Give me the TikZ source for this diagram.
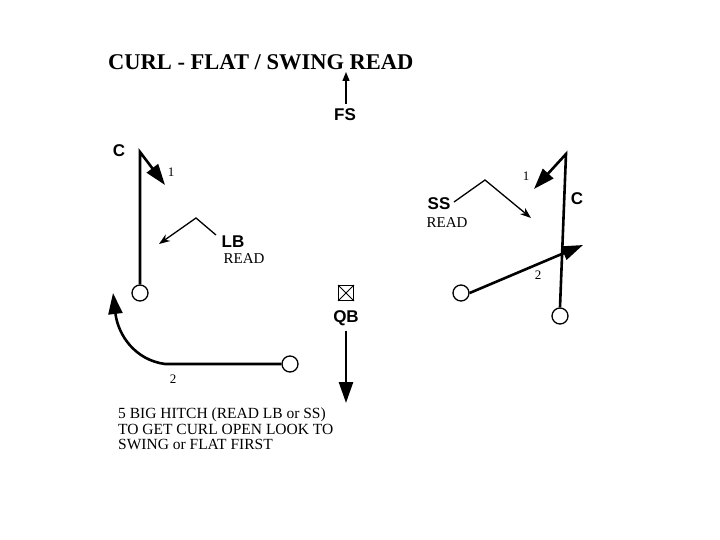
\documentclass[tikz,border=0pt]{standalone}
\usepackage{fontspec}
\setmainfont{Liberation Serif}
\setsansfont{Liberation Sans}
\usetikzlibrary{arrows.meta}
\begin{document}
\begin{tikzpicture}[x=1pt,y=-1pt,
  route/.style={line width=2.6pt,-{Triangle[length=21pt,width=14pt]}},
  thinroute/.style={line width=1.3pt,-{Stealth[length=11pt,width=8pt]}},
  player/.style={circle,draw,line width=1.3pt,minimum size=16pt,inner sep=0pt},
  lab/.style={font=\sffamily\bfseries\fontsize{17}{17}\selectfont,inner sep=0pt},
  num/.style={font=\fontsize{13}{13}\selectfont,inner sep=0pt},
  rd/.style={font=\fontsize{15}{15}\selectfont,inner sep=0pt}]
\useasboundingbox (0,0) rectangle (720,540);
% title
\node[font=\bfseries\fontsize{22.5}{22.5}\selectfont,anchor=base west,inner sep=0pt] (title) at (108,70) {CURL - FLAT / SWING READ};
% FS
\node[lab] (fs) at (345,115) {FS};
\coordinate (fsend) at (346,72);
\draw[line width=1.2pt,-{Triangle[length=9pt,width=7pt]}] (346,104) -- (fsend);
% left C
\node[lab] (lc) at (119,151) {C};
\node[player] (lcp) at (140,293) {};
\coordinate (lctop) at (140,152);
\coordinate (lcend) at (165,185);
\draw[route] (lcp.north) -- (lctop) -- (lcend);
\node[num] (l1) at (171,172) {1};
% LB
\node[lab] (lb) at (233,242) {LB};
\node[rd] (lbr) at (244,259) {READ};
\coordinate (lbstart) at (216,235);
\coordinate (lbmid) at (196,218);
\coordinate (lbend) at (159,244);
\draw[thinroute] (lbstart) -- (lbmid) -- (lbend);
% left bottom swing
\node[player] (lbp) at (290,364) {};
\coordinate (sw1) at (165,364);
\coordinate (swend) at (113,293);
\draw[route] (lbp.west) -- (sw1) .. controls (135,360) and (118,335) .. (swend);
\node[num] (l2) at (173,379) {2};
% QB
\node[draw,line width=1pt,minimum size=15pt,inner sep=0pt] (qbbox) at (346,293) {};
\draw[line width=1pt] (qbbox.north west) -- (qbbox.south east) (qbbox.north east) -- (qbbox.south west);
\node[lab] (qb) at (346,318) {QB};
\coordinate (qbend) at (346,403);
\draw[route] (346,331) -- (qbend);
% note
\node[font=\fontsize{15.5}{15.5}\selectfont,anchor=north west,align=left,inner sep=0pt] (note) at (118,408) {5 BIG HITCH (READ LB or SS)\\TO GET CURL OPEN LOOK TO\\SWING or FLAT FIRST};
% right side
\node[lab] (ss) at (439,204) {SS};
\node[rd] (ssr) at (447,223) {READ};
\coordinate (ssstart) at (454,202);
\coordinate (ssmid) at (485,180);
\coordinate (ssend) at (531,218);
\draw[thinroute] (ssstart) -- (ssmid) -- (ssend);
\node[player] (rcp) at (560,316) {};
\coordinate (rctop) at (566,154);
\coordinate (rcend) at (534,189);
\draw[route] (rcp.north) -- (rctop) -- (rcend);
\node[num] (r1) at (526,176) {1};
\node[lab] (rc) at (577,199) {C};
\node[player] (rsp) at (461,293) {};
\coordinate (rsend) at (583,245);
\draw[route] (rsp.east) -- (rsend);
\node[num] (r2) at (538,275) {2};
\end{tikzpicture}
\end{document}
